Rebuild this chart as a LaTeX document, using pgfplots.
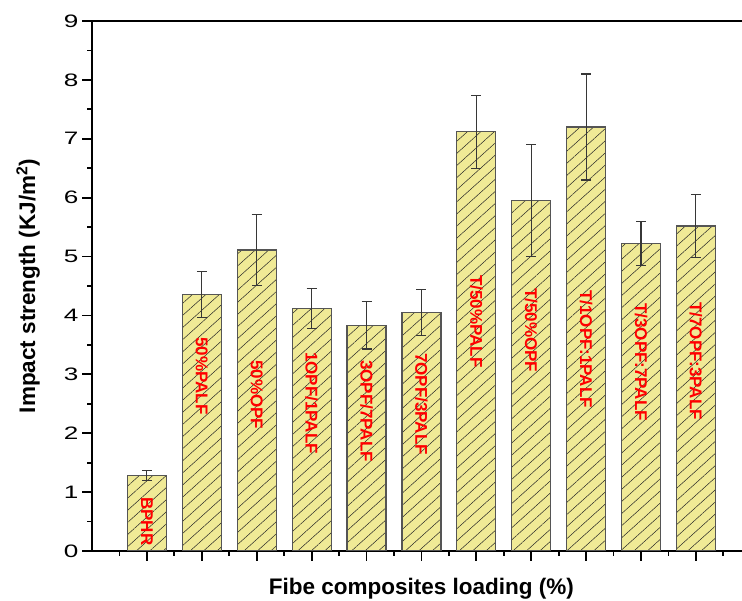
\documentclass[border=0pt]{standalone}
\usepackage{fontspec}
\setmainfont{Liberation Sans}
\newfontfamily\tickfont[FakeStretch=1.45]{Liberation Sans}
\usepackage{pgfplots}
\usepackage{pgfplotstable}
\pgfplotsset{compat=1.18}
\usetikzlibrary{patterns.meta}
\definecolor{barfill}{RGB}{240,234,150}
\definecolor{baredge}{RGB}{85,85,85}
\definecolor{errc}{RGB}{55,55,55}
\tikzset{lab/.style={rotate=-90, anchor=west, inner sep=0pt, text=red, font=\bfseries\fontsize{17}{20}\selectfont}}

\pgfplotstableread{
x y e
0 1.28 0.09
1 4.36 0.39
2 5.11 0.60
3 4.12 0.34
4 3.83 0.40
5 4.05 0.39
6 7.12 0.62
7 5.95 0.95
8 7.20 0.90
9 5.22 0.37
10 5.52 0.53
}\datatable

\begin{document}
\begin{tikzpicture}
\path[use as bounding box] (0,0) rectangle (742pt,601pt);
\clip (0,0) rectangle (742pt,601pt);
\begin{axis}[
  at={(92pt,50pt)}, anchor=south west,
  scale only axis, width=658.8pt, height=530pt,
  xmin=-1, xmax=11, ymin=0, ymax=9,
  ybar, bar width=39pt,
  xtick={0,...,10}, xticklabels={},
  minor xtick={-0.5,0.5,...,10.5},
  ytick={0,...,9}, minor ytick={0.5,1.5,...,8.5},
  tick pos=left, tick align=outside,
  major tick length=10pt, minor tick length=5pt,
  tick style={black, line width=1.8pt},
  axis line style={black, line width=1.8pt},
  /pgf/number format/assume math mode=true,
  yticklabel style={font=\tickfont\fontsize{18}{20}\selectfont},
  ylabel={Impact strength (KJ/m\textsuperscript{2})},
  xlabel={Fibe composites loading (\%)},
  every axis y label/.style={at={(axis description cs:-0.0865,0.5)}, rotate=90, anchor=base, font=\bfseries\fontsize{22.5}{26}\selectfont},
  every axis x label/.style={at={(axis description cs:0.5,-0.083)}, anchor=base, font=\bfseries\fontsize{22.5}{26}\selectfont},
]
\addplot[fill=barfill, draw=baredge, line width=1.2pt,
  postaction={pattern={Lines[angle=42,distance=9pt,line width=0.5pt]}, pattern color=black!85},
  error bars/.cd, y dir=both, y explicit,
  error bar style={errc, line width=1.1pt},
  error mark options={rotate=90, errc, line width=1.1pt, mark size=5pt}]
  table[x=x, y=y, y error=e] {\datatable};
\node[lab] at (axis cs:0,0.917) {BPHR};
\node[lab] at (axis cs:1,3.633) {50\%PALF};
\node[lab] at (axis cs:2,3.243) {50\%OPF};
\node[lab] at (axis cs:3,3.379) {1OPF/1PALF};
\node[lab] at (axis cs:4,3.243) {3OPF/7PALF};
\node[lab] at (axis cs:5,3.362) {7OPF/3PALF};
\node[lab] at (axis cs:6,4.686) {T/50\%PALF};
\node[lab] at (axis cs:7,4.465) {T/50\%OPF};
\node[lab] at (axis cs:8,4.431) {T/1OPF:1PALF};
\node[lab] at (axis cs:9,4.211) {T/3OPF:7PALF};
\node[lab] at (axis cs:10,4.228) {T/7OPF:3PALF};
\end{axis}
\end{tikzpicture}
\end{document}
